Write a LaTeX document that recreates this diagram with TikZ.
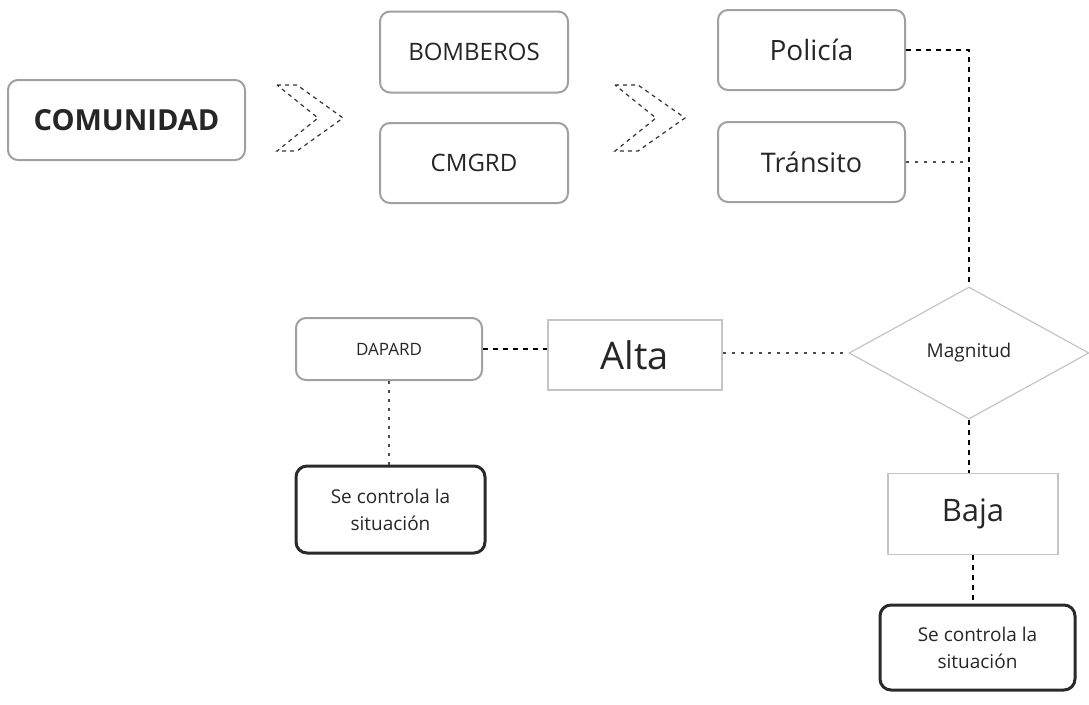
\documentclass[tikz,border=0pt]{standalone}
\usepackage{fontspec}
\setmainfont{Open Sans}
\usetikzlibrary{shapes.geometric}
\definecolor{txt}{HTML}{262626}
\definecolor{bgray}{HTML}{A0A0A0}
\definecolor{lgray}{HTML}{C4C4C4}
\definecolor{dk}{HTML}{2A2A2A}
\tikzset{
  rbox/.style={draw=bgray, line width=2pt, rounded corners=10pt, text=txt, inner sep=0pt, align=center},
  sbox/.style={draw=lgray, line width=1.6pt, text=txt, inner sep=0pt, align=center},
  fbox/.style={draw=dk, line width=3pt, rounded corners=11pt, text=txt, inner sep=0pt, align=center},
  conn/.style={draw=black, line width=1.3pt, dash pattern=on 5pt off 5pt},
  dotconn/.style={draw=black!70, line width=1.3pt, dash pattern=on 3pt off 6pt},
  chev/.style={draw=black!80, line width=1.2pt, dash pattern=on 4pt off 4pt, line join=miter}
}
\begin{document}
\begin{tikzpicture}[x=1pt,y=-1pt]
\useasboundingbox (0,0) rectangle (1089,704);
\node[rbox, minimum width=237, minimum height=80, font=\fontsize{29}{32}\selectfont\bfseries] (com) at (126.5,120) {COMUNIDAD};
\node[rbox, minimum width=188, minimum height=81, font=\fontsize{24}{28}\selectfont] (bom) at (474,52) {BOMBEROS};
\node[rbox, minimum width=188, minimum height=80, font=\fontsize{24}{28}\selectfont] (cmg) at (474,163) {CMGRD};
\node[rbox, minimum width=187, minimum height=80, font=\fontsize{28}{30}\selectfont] (pol) at (811.5,50) {Policía};
\node[rbox, minimum width=187, minimum height=80, font=\fontsize{27}{30}\selectfont] (tra) at (811.5,162) {Tránsito};
\node[rbox, minimum width=186, minimum height=62, font=\fontsize{17}{20}\selectfont] (dap) at (389,349) {DAPARD};
\node[sbox, minimum width=174, minimum height=70, font=\fontsize{38}{40}\selectfont] (alt) at (635,355) {Alta};
\node[diamond, draw=lgray, line width=1.2pt, text=txt, inner sep=0pt, minimum width=240, minimum height=132, font=\fontsize{19}{22}\selectfont] (mag) at (969,353) {Magnitud};
\node[sbox, minimum width=170, minimum height=81, font=\fontsize{31}{34}\selectfont] (baj) at (973,514) {Baja};
\node[fbox, minimum width=189, minimum height=87, font=\fontsize{19}{27}\selectfont] (se1) at (390.5,509.5) {Se controla la\\situación};
\node[fbox, minimum width=195, minimum height=85, font=\fontsize{19}{27}\selectfont] (se2) at (977.5,647.5) {Se controla la\\situación};
% chevrons
\draw[chev] (277,85) -- (297,85) -- (343,118) -- (297,151) -- (277,151) -- (318,118) -- cycle;
\draw[chev] (615,85) -- (638,85) -- (685,118) -- (638,151) -- (615,151) -- (656,118) -- cycle;
% connectors
\draw[conn] (pol.east) -| (mag.north);
\draw[dotconn] (tra.east) -- (tra.east -| mag.north);
\draw[conn] (dap.east) -- (dap.east -| alt.west);
\draw[dotconn] (mag.west -| alt.east) -- (mag.west);
\draw[dotconn] (dap.south) -- (se1.north -| dap.south);
\draw[conn] (mag.south) -- (baj.north -| mag.south);
\draw[conn] (baj.south) -- (se2.north -| baj.south);
\end{tikzpicture}
\end{document}
